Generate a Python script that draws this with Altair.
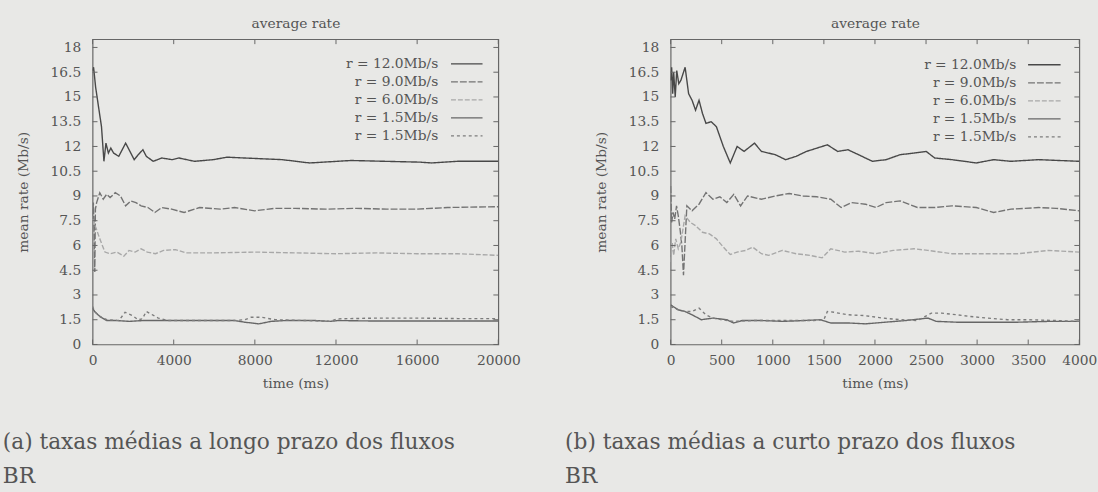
import altair as alt
import pandas as pd

FONT = "DejaVu Serif"
BG = "#e8e8e6"
TXT = "#555555"
FRAME = "#666666"

# ---------------- series definitions ----------------
series_ids = ["s12", "s9", "s6", "s15a", "s15b"]
series_labels = ["r = 12.0Mb/s", "r = 9.0Mb/s", "r = 6.0Mb/s", "r = 1.5Mb/s", "r = 1.5Mb/s"]
series_colors = ["#484848", "#737373", "#a8a8a8", "#666666", "#7c7c7c"]
series_dash = [[1, 0], [7, 2], [5, 2], [1, 0], [3, 3]]

y_ticks = [0, 1.5, 3, 4.5, 6, 7.5, 9, 10.5, 12, 13.5, 15, 16.5, 18]
x_ticks_long = [0, 4000, 8000, 12000, 16000, 20000]
x_ticks_short = [0, 500, 1000, 1500, 2000, 2500, 3000, 3500, 4000]

caption_a = ["(a) taxas médias a longo prazo dos fluxos", "BR"]
caption_b = ["(b) taxas médias a curto prazo dos fluxos", "BR"]

# ---------------- (a) long term, 0-20000 ms ----------------
L12_t = [0, 50, 150, 270, 440, 560, 660, 780, 900, 1035, 1290, 1630, 1800, 2050, 2250, 2480, 2650, 2990, 3410, 3920, 4260, 5020, 5950, 6630, 7500, 9350, 10700, 12740, 14400, 16130, 16720, 18000, 20000]
L12_v = [16.6, 16.8, 15.6, 14.6, 13.2, 11.1, 12.2, 11.6, 11.9, 11.6, 11.4, 12.2, 11.8, 11.2, 11.5, 11.8, 11.4, 11.1, 11.3, 11.2, 11.3, 11.1, 11.2, 11.35, 11.3, 11.2, 11.0, 11.15, 11.1, 11.05, 11.0, 11.1, 11.1]

L9_t = [0, 40, 80, 110, 140, 200, 356, 526, 695, 865, 1119, 1374, 1628, 1883, 2137, 2391, 2731, 3070, 3409, 3900, 4511, 5275, 6292, 7000, 7988, 9000, 10000, 11500, 13000, 14500, 16000, 17500, 20000]
L9_v = [7.8, 8.6, 6.5, 4.4, 8.2, 8.6, 9.2, 8.8, 9.1, 8.9, 9.2, 9.0, 8.4, 8.7, 8.6, 8.4, 8.3, 8.0, 8.3, 8.2, 8.0, 8.3, 8.2, 8.3, 8.1, 8.25, 8.25, 8.2, 8.25, 8.2, 8.2, 8.3, 8.35]

L6_t = [0, 187, 356, 610, 865, 1200, 1543, 1798, 2100, 2391, 2700, 3100, 3500, 4087, 4600, 6000, 8000, 10000, 12000, 14000, 16000, 18000, 20000]
L6_v = [7.6, 7.0, 6.4, 5.6, 5.5, 5.6, 5.35, 5.7, 5.6, 5.8, 5.6, 5.5, 5.7, 5.75, 5.55, 5.55, 5.6, 5.55, 5.5, 5.55, 5.5, 5.5, 5.4]

L15a_t = [0, 100, 356, 700, 1200, 1800, 2500, 3500, 5000, 7000, 7500, 8200, 8800, 9500, 11000, 11700, 12100, 14000, 16000, 18000, 20000]
L15a_v = [2.2, 2.0, 1.7, 1.45, 1.45, 1.4, 1.45, 1.45, 1.45, 1.45, 1.35, 1.25, 1.4, 1.45, 1.45, 1.4, 1.45, 1.42, 1.42, 1.42, 1.42]

L15b_t = [0, 100, 356, 700, 1300, 1600, 1967, 2250, 2450, 2650, 3240, 3700, 5000, 7000, 7500, 7818, 8327, 9000, 10500, 11700, 12058, 14000, 16000, 18000, 20000]
L15b_v = [2.3, 2.0, 1.7, 1.5, 1.45, 1.95, 1.75, 1.5, 1.55, 2.0, 1.6, 1.45, 1.45, 1.45, 1.5, 1.65, 1.65, 1.5, 1.45, 1.4, 1.55, 1.6, 1.6, 1.57, 1.57]

# ---------------- (b) short term, 0-4000 ms ----------------
R12_t = [0, 10, 20, 30, 45, 60, 80, 100, 142, 176, 210, 244, 278, 312, 346, 397, 448, 516, 584, 651, 719, 821, 889, 1025, 1126, 1228, 1330, 1432, 1534, 1635, 1737, 1839, 1975, 2110, 2246, 2382, 2501, 2585, 2755, 2992, 3162, 3330, 3600, 4000]
R12_v = [16.0, 16.8, 15.2, 16.5, 15.0, 16.6, 15.8, 16.0, 16.8, 15.2, 14.8, 14.2, 14.8, 14.0, 13.4, 13.5, 13.2, 12.0, 11.0, 12.0, 11.7, 12.2, 11.7, 11.5, 11.2, 11.4, 11.7, 11.9, 12.1, 11.7, 11.8, 11.5, 11.1, 11.2, 11.5, 11.6, 11.7, 11.3, 11.2, 11.0, 11.2, 11.1, 11.2, 11.1]

R9_t = [0, 10, 24, 40, 58, 75, 92, 110, 126, 159, 210, 278, 346, 414, 482, 550, 618, 685, 753, 889, 1025, 1160, 1296, 1432, 1568, 1669, 1771, 1907, 2009, 2110, 2246, 2416, 2585, 2755, 2992, 3162, 3332, 3603, 3773, 4000]
R9_v = [9.6, 7.4, 8.0, 7.6, 8.4, 7.8, 7.0, 6.0, 4.2, 8.4, 8.1, 8.5, 9.2, 8.8, 8.95, 8.6, 9.1, 8.4, 9.0, 8.8, 9.0, 9.15, 9.0, 8.95, 8.8, 8.3, 8.6, 8.5, 8.3, 8.6, 8.7, 8.3, 8.3, 8.4, 8.3, 8.0, 8.2, 8.3, 8.25, 8.1]

R6_t = [0, 15, 30, 50, 75, 100, 142, 193, 244, 312, 380, 448, 516, 584, 651, 736, 804, 889, 960, 1093, 1228, 1364, 1483, 1568, 1703, 1839, 2009, 2178, 2382, 2518, 2755, 3100, 3400, 3700, 4000]
R6_v = [5.0, 6.2, 5.4, 6.4, 5.8, 6.2, 7.8, 7.4, 7.2, 6.8, 6.7, 6.4, 5.9, 5.45, 5.6, 5.7, 5.9, 5.5, 5.4, 5.7, 5.5, 5.4, 5.25, 5.8, 5.6, 5.65, 5.5, 5.7, 5.8, 5.7, 5.5, 5.5, 5.5, 5.7, 5.6]

R15a_t = [0, 75, 140, 210, 300, 414, 550, 618, 700, 900, 1100, 1300, 1466, 1568, 1750, 1907, 2100, 2300, 2518, 2600, 2800, 3100, 3400, 3700, 4000]
R15a_v = [2.4, 2.1, 2.0, 1.8, 1.5, 1.6, 1.5, 1.3, 1.45, 1.45, 1.4, 1.45, 1.5, 1.3, 1.3, 1.25, 1.35, 1.45, 1.6, 1.4, 1.35, 1.35, 1.35, 1.4, 1.4]

R15b_t = [0, 75, 140, 210, 278, 346, 414, 500, 618, 800, 1000, 1200, 1400, 1500, 1534, 1600, 1737, 1900, 2076, 2250, 2416, 2552, 2653, 2800, 2925, 3100, 3300, 3500, 3773, 4000]
R15b_v = [2.3, 2.1, 2.0, 2.0, 2.2, 1.8, 1.6, 1.5, 1.4, 1.45, 1.45, 1.45, 1.45, 1.5, 2.0, 1.95, 1.8, 1.75, 1.6, 1.5, 1.45, 1.9, 1.9, 1.8, 1.7, 1.6, 1.5, 1.5, 1.45, 1.4]

long_data = {"s12": (L12_t, L12_v), "s9": (L9_t, L9_v), "s6": (L6_t, L6_v),
             "s15a": (L15a_t, L15a_v), "s15b": (L15b_t, L15b_v)}
short_data = {"s12": (R12_t, R12_v), "s9": (R9_t, R9_v), "s6": (R6_t, R6_v),
              "s15a": (R15a_t, R15a_v), "s15b": (R15b_t, R15b_v)}

H = 310
TICK = 5
ROW = 18.3

color_scale = alt.Scale(domain=series_ids, range=series_colors)
dash_scale = alt.Scale(domain=series_ids, range=series_dash)


def panel(data, xmax, xticks, W, caption, cap_dx, leg_text_x, leg_x1, leg_x2, leg_y0):
    rows = []
    for sid in series_ids:
        t, v = data[sid]
        for tt, vv in zip(t, v):
            rows.append({"series": sid, "t": tt, "v": vv})
    df = pd.DataFrame(rows)
    xs = alt.Scale(domain=[0, xmax], nice=False, zero=False)
    ys = alt.Scale(domain=[0, 18.5], nice=False, zero=False)
    lines = alt.Chart(df).mark_line(strokeWidth=1.4, clip=True).encode(
        x=alt.X("t:Q", scale=xs, axis=alt.Axis(values=xticks, format="d", title="time (ms)",
                                              orient="bottom", labelPadding=9, titlePadding=10,
                                              labelFlush=False, labelOverlap=False)),
        y=alt.Y("v:Q", scale=ys, axis=alt.Axis(values=y_ticks, format=".1~f", title="mean rate (Mb/s)",
                                              labelPadding=12, titlePadding=20,
                                              labelFlush=False, labelOverlap=False)),
        color=alt.Color("series:N", scale=color_scale, legend=None),
        strokeDash=alt.StrokeDash("series:N", scale=dash_scale, legend=None),
        detail="series:N",
    )
    xdf = pd.DataFrame({"x": xticks})
    ydf = pd.DataFrame({"y": y_ticks})
    bt = alt.Chart(xdf).mark_rule(color=FRAME, strokeWidth=1).encode(
        x=alt.X("x:Q", scale=xs, axis=None), y=alt.value(H), y2=alt.value(H - TICK))
    tt = alt.Chart(xdf).mark_rule(color=FRAME, strokeWidth=1).encode(
        x=alt.X("x:Q", scale=xs, axis=alt.Axis(orient="top", title="average rate", labels=False,
                                              ticks=False, domain=False, grid=False,
                                              titlePadding=9, titleFontSize=14)),
        y=alt.value(0), y2=alt.value(TICK))
    lt = alt.Chart(ydf).mark_rule(color=FRAME, strokeWidth=1).encode(
        y=alt.Y("y:Q", scale=ys, axis=None), x=alt.value(0), x2=alt.value(TICK))
    rt = alt.Chart(ydf).mark_rule(color=FRAME, strokeWidth=1).encode(
        y=alt.Y("y:Q", scale=ys, axis=None), x=alt.value(W), x2=alt.value(W - TICK))

    # in-plot key (labels to the left of line samples, gnuplot style)
    ldf = pd.DataFrame({"series": series_ids, "label": series_labels, "rank": list(range(len(series_ids)))})
    rank_scale = alt.Scale(type="point", domain=list(range(len(series_ids))),
                           range=[leg_y0, leg_y0 + ROW * (len(series_ids) - 1)], padding=0)
    ltxt = alt.Chart(ldf).mark_text(align="right", baseline="middle", font=FONT, fontSize=14,
                                    color=TXT).encode(
        text="label:N", x=alt.value(leg_text_x),
        y=alt.Y("rank:O", scale=rank_scale, axis=None))
    lsym = alt.Chart(ldf).mark_rule(strokeWidth=1.4).encode(
        x=alt.value(leg_x1), x2=alt.value(leg_x2),
        y=alt.Y("rank:O", scale=rank_scale, axis=None),
        color=alt.Color("series:N", scale=color_scale, legend=None),
        strokeDash=alt.StrokeDash("series:N", scale=dash_scale, legend=None))

    return alt.layer(lines, bt, tt, lt, rt, ltxt, lsym).resolve_axis(
        x="independent", y="independent").resolve_scale(y="independent").properties(
        width=W, height=H,
        title=alt.TitleParams(caption, orient="bottom", anchor="start", frame="bounds", dx=cap_dx,
                              offset=42, fontSize=22, font=FONT, color=TXT, fontWeight="normal",
                              lineHeight=35),
    )


left = panel(long_data, 20000, x_ticks_long, 412, caption_a, -14, 351, 364, 396, 25)
right = panel(short_data, 4000, x_ticks_short, 415, caption_b, -30, 351, 363, 396, 26)

chart = alt.hconcat(left, right, spacing=44).properties(
    background=BG, padding={"left": 2, "top": 12, "right": 0, "bottom": 0}
).configure_view(stroke=FRAME, strokeWidth=1.2, fill=BG).configure_axis(
    labelFont=FONT, titleFont=FONT, labelFontSize=14, titleFontSize=14,
    labelColor=TXT, titleColor=TXT, titleFontWeight="normal", grid=False, domain=False, ticks=False,
)

chart.save("out.html", embed_options={"renderer": "svg", "actions": False})
